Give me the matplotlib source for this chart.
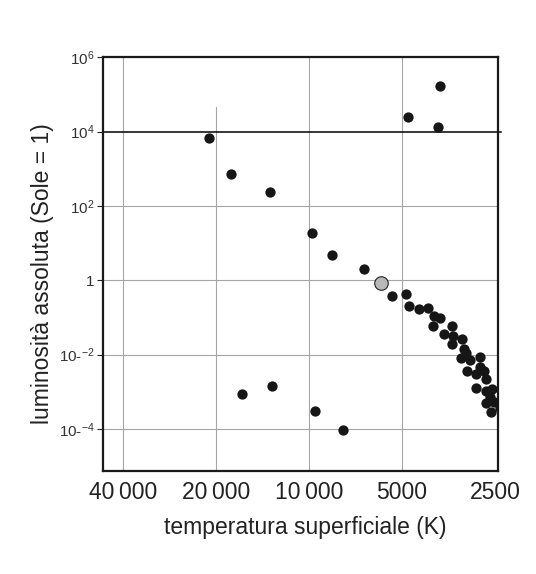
import matplotlib
matplotlib.use("Agg")
import matplotlib.pyplot as plt

plt.rcParams["font.family"] = ["Liberation Sans", "DejaVu Sans"]
plt.rcParams["mathtext.fontset"] = "custom"
plt.rcParams["mathtext.rm"] = "Liberation Sans"
plt.rcParams["mathtext.it"] = "Liberation Sans"

# main sequence + giants (temperature K, luminosity in solar units)
stars_T = [21100, 17900, 13400, 9760, 8430, 6620, 4780, 3770, 3820,
           5400, 4850, 4740, 4410, 4130, 3950, 3760, 3980, 3660, 3440,
           3430, 3440, 3200, 3140, 3100, 3220, 3020, 2800, 3080, 2880,
           2800, 2710, 2680, 2870, 2670, 2550, 2590, 2680, 2510, 2410, 2570]
stars_L = [6900, 720, 243, 18.6, 4.7, 1.98, 25000, 172000, 13400,
           0.386, 0.437, 0.202, 0.168, 0.182, 0.111, 0.098, 0.0608, 0.0362, 0.0582,
           0.0326, 0.019, 0.0265, 0.0145, 0.0111, 0.0081, 0.00703, 0.0085, 0.00355, 0.0030,
           0.00466, 0.0037, 0.00226, 0.00131, 0.00108, 0.00123, 0.00075, 0.0005, 0.00054, 0.00036, 0.00028]

# white dwarfs
wd_T = [16500, 13150, 9580, 7760]
wd_L = [0.00088, 0.00143, 0.00031, 0.000096]

sun_T = [5850]
sun_L = [0.83]

xticks = [40000, 20000, 10000, 5000, 2500]
xlabels = ["40\u2009000", "20\u2009000", "10\u2009000", "5000", "2500"]
yticks = [1e-4, 1e-2, 1, 1e2, 1e4, 1e6]
ylabels = ["10-$^{-4}$", "10-$^{-2}$", "1", "10$^{2}$", "10$^{4}$", "10$^{6}$"]

fig = plt.figure(figsize=(5.36, 5.74), dpi=100)
ax = fig.add_axes([0.192, 0.179, 0.737, 0.7213])

ax.set_xscale("log")
ax.set_yscale("log")
ax.set_xlim(46450, 2445)
ax.set_ylim(10 ** -5.135, 1e6)

grid_c = "#a6a6a6"
for t in [40000, 10000, 5000]:
    ax.axvline(t, color=grid_c, lw=0.8, zorder=1)
ax.axvline(20000, ymax=0.88, color=grid_c, lw=0.8, zorder=1)
for l in [1e-4, 1e-2, 1, 1e2]:
    ax.axhline(l, color=grid_c, lw=0.8, zorder=1)
ax.axhline(1e4, xmin=0, xmax=1.008, color="black", lw=1.1, clip_on=False, zorder=2)

ax.scatter(stars_T, stars_L, s=55, color="#161616", zorder=3, linewidths=0)
ax.scatter(wd_T, wd_L, s=55, color="#161616", zorder=3, linewidths=0)
ax.scatter(sun_T, sun_L, s=95, facecolor="#b8b8b8", edgecolor="#222222", linewidths=0.8, zorder=4)

ax.set_xticks(xticks)
ax.set_xticklabels(xlabels, fontsize=16.5)
ax.xaxis.set_minor_locator(matplotlib.ticker.NullLocator())
ax.set_yticks(yticks)
ax.set_yticklabels(ylabels, fontsize=11, color="#333333")
ax.yaxis.set_minor_locator(matplotlib.ticker.NullLocator())
ax.tick_params(axis="x", length=0, pad=7, colors="#222222")
ax.tick_params(axis="y", length=4, width=0.8, color="#222222", pad=2)

for sp in ax.spines.values():
    sp.set_linewidth(1.6)
    sp.set_color("#1a1a1a")

ax.set_xlabel("temperatura superficiale (K)", fontsize=16.5, color="#222222", va="center")
ax.xaxis.set_label_coords(0.511, -0.135)
ax.set_ylabel("luminosità assoluta (Sole = 1)", fontsize=16.5, color="#222222", va="center")
ax.yaxis.set_label_coords(-0.152, 0.478)

fig.savefig("out.png", dpi=100)
